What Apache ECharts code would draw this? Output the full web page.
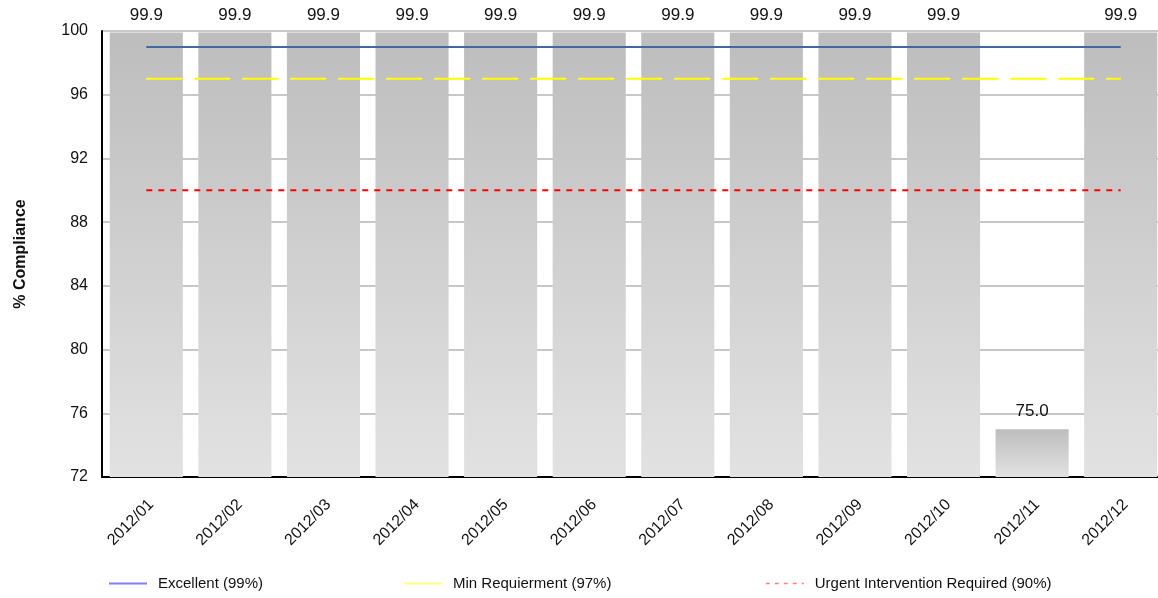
<!DOCTYPE html>
<html><head><meta charset="utf-8">
<script src="https://cdn.jsdelivr.net/npm/echarts@6/dist/echarts.min.js"></script>
<style>html,body{margin:0;padding:0;background:#fff}#c{width:1158px;height:598px}</style>
</head><body><div id="c"></div>
<script>
const categories = ['2012/01','2012/02','2012/03','2012/04','2012/05','2012/06','2012/07','2012/08','2012/09','2012/10','2012/11','2012/12'];
const compliance = [99.9,99.9,99.9,99.9,99.9,99.9,99.9,99.9,99.9,99.9,75.0,99.9];
const excellent = [99,99,99,99,99,99,99,99,99,99,99,99];
const minReq = [97,97,97,97,97,97,97,97,97,97,97,97];
const urgent = [90,90,90,90,90,90,90,90,90,90,90,90];
const yTicks = {min:72, max:100, interval:4};

const font = 'Liberation Sans, Arial, sans-serif';
const chart = echarts.init(document.getElementById('c'), null, {renderer:'canvas'});
function mkLegend(id, left, name, color, type, width){
  return {id:id, left:left, bottom:2, itemWidth:38, itemHeight:12, itemGap:17,
    textStyle:{fontFamily:font, fontSize:15, color:'#111', padding:[0,0,0,6]},
    data:[{name:name, itemStyle:{opacity:0, color:color}, lineStyle:{color:color, width:width, type:type, opacity:1}}]};
}
chart.setOption({
  animation:false,
  textStyle:{fontFamily:font},
  grid:{left:102, top:31, width:1063, height:446, outerBoundsMode:'none', containLabel:false},
  legend:[
    mkLegend('l1', 103, 'Excellent (99%)', '#8080ff', 'solid', 2),
    mkLegend('l2', 398, 'Min Requierment (97%)', '#ffff80', 'solid', 2),
    mkLegend('l3', 760, 'Urgent Intervention Required (90%)', '#ff8080', [4,5], 1.5)
  ],
  xAxis:{type:'category', data:categories,
    axisLine:{lineStyle:{color:'#000', width:2}}, axisTick:{show:false},
    axisLabel:{rotate:45, fontSize:16, color:'#111', margin:30, padding:[0,-7,0,0], fontFamily:font}},
  yAxis:{type:'value', min:yTicks.min, max:yTicks.max, interval:yTicks.interval,
    name:'% Compliance', nameLocation:'middle', nameGap:73, nameMoveOverlap:false,
    nameTextStyle:{fontWeight:'bold', fontSize:16, color:'#111', fontFamily:font},
    axisLine:{show:true, lineStyle:{color:'#000', width:2}}, axisTick:{show:false},
    axisLabel:{fontSize:16, color:'#111', margin:14, fontFamily:font},
    splitLine:{lineStyle:{color:'#c8c8c8', width:2}}},
  series:[
    {type:'bar', name:'Compliance', data:compliance, barCategoryGap:'17.5%', z:2,
      itemStyle:{color:new echarts.graphic.LinearGradient(0,0,0,1,[{offset:0,color:'#bdbdbd'},{offset:1,color:'#e2e2e2'}])},
      label:{show:true, position:'top', distance:9, fontSize:17, color:'#111', fontFamily:font,
        formatter:p=>p.value.toFixed(1)}},
    {type:'line', name:'Excellent (99%)', data:excellent, symbol:'none', z:5,
      lineStyle:{color:'#3f6a9f', width:2}, itemStyle:{color:'#3f6a9f'}},
    {type:'line', name:'Min Requierment (97%)', data:minReq, symbol:'none', z:5,
      lineStyle:{color:'#ffff00', width:2, type:[36,12]}, itemStyle:{color:'#ffff00'}},
    {type:'line', name:'Urgent Intervention Required (90%)', data:urgent, symbol:'none', z:5,
      lineStyle:{color:'#ff0000', width:2, type:[6,6]}, itemStyle:{color:'#ff0000'}}
  ]
});
</script></body></html>
